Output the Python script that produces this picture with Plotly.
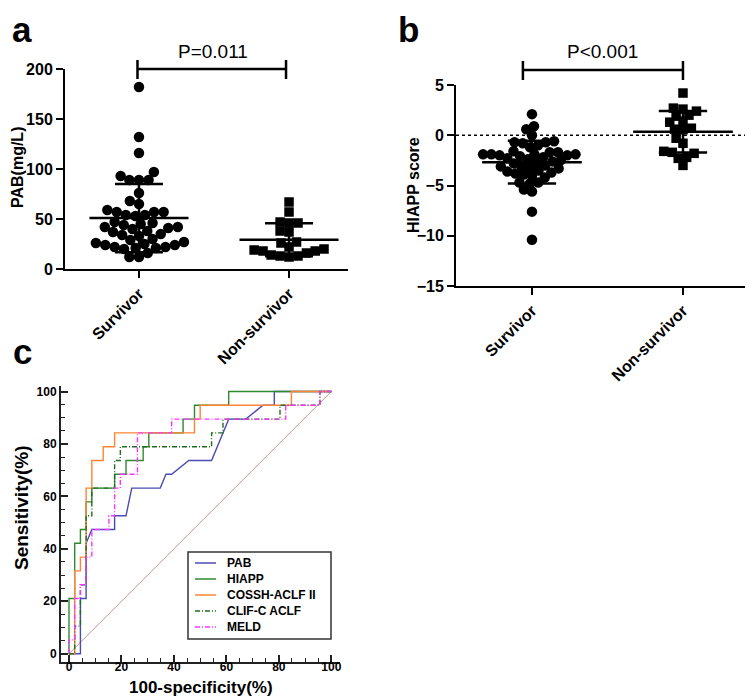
import numpy as np
import plotly.graph_objects as go

W, H = 753, 696
FONT = "Arial, Liberation Sans, sans-serif"

# ---------------- data ----------------
groups = ["Survivor", "Non-survivor"]

pab_survivor = [182, 132, 116, 97, 93, 89, 89, 89, 76, 68, 65, 59, 57, 57, 57, 54, 53, 54,
                47, 46, 45, 44, 42, 42, 41, 40, 38, 37, 35, 34, 33, 30, 29, 27, 26, 25, 24,
                24, 22, 22, 21, 21, 20, 16, 12, 12]
pab_nonsurvivor = [67, 57, 47, 46, 46, 38, 37, 27, 26, 22, 20, 19, 18, 18, 16, 14, 13, 13, 12]

hiapp_survivor = [2.1, 0.9, 0.6, 0.0, -0.6, -0.7, -0.7, -0.8, -1.0, -1.2, -1.6, -1.7, -1.7,
                  -1.9, -1.9, -1.9, -1.9, -2.0, -2.0, -2.1, -2.2, -2.3, -2.4, -2.5, -2.6,
                  -2.7, -2.8, -3.0, -3.1, -3.1, -3.2, -3.3, -3.5, -3.6, -3.7, -3.8, -3.9,
                  -4.0, -4.2, -4.7, -4.7, -4.8, -5.4, -5.6, -7.6, -10.4]
hiapp_nonsurvivor = [4.2, 2.6, 2.7, 2.0, 1.9, 2.4, 1.4, 1.3, 0.55, 0.6, 0.7, -0.3, -0.8,
                     -1.7, -2.2, -1.6, -2.3, -1.8, -3.0]

p_text_a = "P=0.011"
p_text_b = "P<0.001"

roc_names = ["PAB", "HIAPP", "COSSH-ACLF II", "CLIF-C ACLF", "MELD"]
roc_pab_fpr = [0, 4.35, 4.35, 6.52, 6.52, 8.70, 17.39, 17.39, 21.74, 23.91, 34.78, 36.96,
               39.13, 45.65, 54.35, 60.87, 67.39, 73.91, 78.26, 78.26, 100]
roc_pab_tpr = [0, 0, 21.05, 21.05, 42.11, 47.37, 47.37, 52.63, 52.63, 63.16, 63.16, 68.42,
               68.42, 73.68, 73.68, 89.47, 89.47, 94.74, 94.74, 100, 100]
roc_hiapp_fpr = [0, 0, 2.17, 2.17, 4.35, 4.35, 6.52, 6.52, 8.70, 8.70, 17.39, 17.39, 21.74,
                 21.74, 28.26, 28.26, 30.43, 30.43, 43.48, 43.48, 47.83, 47.83, 60.87, 60.87, 100]
roc_hiapp_tpr = [0, 21.05, 21.05, 42.11, 42.11, 47.37, 47.37, 57.89, 57.89, 63.16, 63.16,
                 68.42, 68.42, 73.68, 73.68, 78.95, 78.95, 84.21, 84.21, 89.47, 89.47, 94.74,
                 94.74, 100, 100]
roc_cossh_fpr = [0, 2.17, 2.17, 4.35, 4.35, 6.52, 6.52, 8.70, 8.70, 13.04, 13.04, 17.39,
                 17.39, 47.83, 47.83, 50.00, 50.00, 84.78, 84.78, 100]
roc_cossh_tpr = [0, 0, 31.58, 31.58, 36.84, 36.84, 63.16, 63.16, 73.68, 73.68, 78.95, 78.95,
                 84.21, 84.21, 89.47, 89.47, 94.74, 94.74, 100, 100]
roc_clif_fpr = [0, 2.17, 2.17, 4.35, 4.35, 6.52, 6.52, 8.70, 8.70, 17.39, 17.39, 19.57,
                19.57, 54.35, 54.35, 58.70, 58.70, 80.43, 80.43, 95.65, 95.65, 100]
roc_clif_tpr = [0, 0, 10.53, 10.53, 26.32, 26.32, 52.63, 52.63, 63.16, 63.16, 73.68, 73.68,
                78.95, 78.95, 84.21, 84.21, 89.47, 89.47, 94.74, 94.74, 100, 100]
roc_meld_fpr = [0, 0, 2.17, 2.17, 4.35, 4.35, 6.52, 6.52, 8.70, 8.70, 15.22, 15.22, 17.39,
                17.39, 19.57, 19.57, 26.09, 26.09, 39.13, 39.13, 82.61, 82.61, 95.65, 95.65, 100]
roc_meld_tpr = [0, 5.26, 5.26, 21.05, 21.05, 26.32, 26.32, 36.84, 36.84, 47.37, 47.37, 52.63,
                52.63, 63.16, 63.16, 68.42, 68.42, 84.21, 84.21, 89.47, 89.47, 94.74, 94.74,
                100, 100]
roc_ref = [0, 100]

# ---------------- helpers ----------------
def px(p):
    return p / W


def py(p):
    return 1 - p / H


def beeswarm(vals, px_per_unit, px_per_cat, d):
    vals = np.asarray(vals, dtype=float)
    order = np.argsort(vals)
    placed = []
    xs = np.zeros(len(vals))
    for i in order:
        y = vals[i] * px_per_unit
        cands = [0.0]
        for (qx, qy) in placed:
            dy = abs(qy - y)
            if dy < d:
                dx = np.sqrt(d * d - dy * dy)
                cands += [qx + dx, qx - dx]
        cands = sorted(cands, key=lambda c: (round(abs(c), 6), c))
        for c in cands:
            if all((c - qx) ** 2 + (y - qy) ** 2 >= d * d - 1e-6 for (qx, qy) in placed):
                xs[i] = c
                placed.append((c, y))
                break
    return xs / px_per_cat


def mean_sd_lines(vals, idx, half_mean=0.33, half_cap=0.16):
    m = float(np.mean(vals))
    s = float(np.std(vals, ddof=1))
    xs = [idx - half_mean, idx + half_mean, None,
          idx, idx, None,
          idx - half_cap, idx + half_cap, None,
          idx - half_cap, idx + half_cap]
    ys = [m, m, None, m - s, m + s, None, m + s, m + s, None, m - s, m - s]
    return xs, ys


fig = go.Figure()

# ---------------- panel a ----------------
PXA_UNIT, PXA_CAT = 1.0, 150.0
for gi, (vals, sym, size, d) in enumerate([(pab_survivor, "circle", 10.5, 9.6),
                                          (pab_nonsurvivor, "square", 9.5, 9.0)]):
    off = beeswarm(vals, PXA_UNIT, PXA_CAT, d)
    fig.add_trace(go.Scatter(x=gi + off, y=vals, mode="markers", xaxis="x", yaxis="y",
                             marker=dict(symbol=sym, size=size, color="black"),
                             showlegend=False, hoverinfo="skip"))
    lx, ly = mean_sd_lines(vals, gi)
    fig.add_trace(go.Scatter(x=lx, y=ly, mode="lines", xaxis="x", yaxis="y",
                             line=dict(color="black", width=2.5), showlegend=False,
                             hoverinfo="skip"))

# ---------------- panel b ----------------
PXB_UNIT, PXB_CAT = 10.05, 151.0
for gi, (vals, sym, size, d) in enumerate([(hiapp_survivor, "circle", 10.5, 8.3),
                                          (hiapp_nonsurvivor, "square", 9.5, 8.5)]):
    off = beeswarm(vals, PXB_UNIT, PXB_CAT, d)
    fig.add_trace(go.Scatter(x=gi + off, y=vals, mode="markers", xaxis="x2", yaxis="y2",
                             marker=dict(symbol=sym, size=size, color="black"),
                             showlegend=False, hoverinfo="skip"))
    lx, ly = mean_sd_lines(vals, gi)
    fig.add_trace(go.Scatter(x=lx, y=ly, mode="lines", xaxis="x2", yaxis="y2",
                             line=dict(color="black", width=2.5), showlegend=False,
                             hoverinfo="skip"))

# ---------------- panel c (ROC) ----------------
fig.add_trace(go.Scatter(x=roc_ref, y=roc_ref, mode="lines", xaxis="x3", yaxis="y3",
                         line=dict(color="#c59393", width=1), showlegend=False,
                         hoverinfo="skip"))
DASHDOT = "5px,2px,1px,2px"
roc_styles = [
    (roc_pab_fpr, roc_pab_tpr, "#4b4bb5", "solid"),
    (roc_hiapp_fpr, roc_hiapp_tpr, "#2f8a2f", "solid"),
    (roc_cossh_fpr, roc_cossh_tpr, "#ff8433", "solid"),
    (roc_clif_fpr, roc_clif_tpr, "#1f6e1f", DASHDOT),
    (roc_meld_fpr, roc_meld_tpr, "#ff33ff", DASHDOT),
]
for name, (fx, ty, col, dash) in zip(roc_names, roc_styles):
    fig.add_trace(go.Scatter(x=fx, y=ty, mode="lines", xaxis="x3", yaxis="y3", name=name,
                             line=dict(color=col, width=1.4, dash=dash), hoverinfo="skip",
                             showlegend=False))

# ---------------- axes ----------------
tick_bold16 = dict(family=FONT, size=16, color="black", weight="bold")
tick_cat = dict(family=FONT, size=16, color="black", weight="bold")
tick_bold12 = dict(family=FONT, size=12, color="black", weight="bold")
common_cat = dict(tickvals=[0, 1], ticktext=groups, tickangle=-45, ticks="outside",
                  ticklen=7, tickwidth=2, tickcolor="black", showline=True, linewidth=2,
                  linecolor="black", showgrid=False, zeroline=False, tickfont=tick_cat,
                  fixedrange=True)
common_val = dict(ticks="outside", ticklen=7, tickwidth=2, tickcolor="black", showline=True,
                  linewidth=2, linecolor="black", showgrid=False, zeroline=False,
                  tickfont=tick_bold16, fixedrange=True)
roc_axis = dict(tickvals=[0, 20, 40, 60, 80, 100], ticks="inside", ticklen=7, tickwidth=1.5,
                tickcolor="#222", minor=dict(dtick=5, tick0=0, ticks="inside", ticklen=4,
                                             tickwidth=1.2, tickcolor="#222"),
                showline=True, linewidth=2, linecolor="#222", showgrid=False, zeroline=False,
                tickfont=tick_bold12, fixedrange=True)

fig.update_layout(
    xaxis=dict(domain=[px(57), px(340)], range=[-0.493, 1.393], anchor="y", **common_cat),
    yaxis=dict(domain=[py(261), py(61)], range=[0, 200], tickvals=[0, 50, 100, 150, 200],
               anchor="x", **common_val),
    xaxis2=dict(domain=[px(448), px(752)], range=[-0.503, 1.51], anchor="y2", **common_cat),
    yaxis2=dict(domain=[py(278), py(77)], range=[-15, 5], tickvals=[-15, -10, -5, 0, 5],
                anchor="x2", **common_val),
    xaxis3=dict(domain=[px(53), px(332)], range=[-3.05, 103.3], anchor="y3",
                ticklabelstandoff=-7, **roc_axis),
    yaxis3=dict(domain=[py(654), py(378)], range=[-3.16, 102.1], anchor="x3", **roc_axis),
)

# ---------------- shapes ----------------
shapes = []


def bracket(xref, x0, x1, yc):
    shapes.append(dict(type="line", xref=xref, yref="paper", x0=x0, x1=x1, y0=py(yc), y1=py(yc),
                       line=dict(color="black", width=2.5)))
    for xx in (x0, x1):
        shapes.append(dict(type="line", xref=xref, yref="paper", x0=xx, x1=xx,
                           y0=py(yc - 9), y1=py(yc + 10), line=dict(color="black", width=2.5)))


bracket("x", -0.01, 0.98, 61)
bracket("x2", -0.06, 1.0, 62)
shapes.append(dict(type="line", xref="x2 domain", yref="y2", x0=0, x1=1, y0=0, y1=0,
                   line=dict(color="black", width=1.5, dash="dot")))

# manual legend for ROC panel
LEG_L, LEG_T, LEG_R, LEG_B = 180, 544, 323, 631
shapes.append(dict(type="rect", xref="paper", yref="paper", x0=px(LEG_L), x1=px(LEG_R),
                   y0=py(LEG_B), y1=py(LEG_T), line=dict(color="#333", width=1.5),
                   fillcolor="white", layer="above"))

# ---------------- annotations ----------------
ann = []


def text(x, y, s, size, bold=True, angle=0, xanchor="center", yanchor="middle", xref="paper"):
    ann.append(dict(x=x, y=y, xref=xref, yref="paper", text=s, showarrow=False,
                    textangle=angle, xanchor=xanchor, yanchor=yanchor,
                    font=dict(family=FONT, size=size, color="black",
                              weight="bold" if bold else "normal")))


for k, (name, (_, _, col, dash)) in enumerate(zip(roc_names, roc_styles)):
    yc = 555 + 16 * k
    shapes.append(dict(type="line", xref="paper", yref="paper", x0=px(187), x1=px(208),
                       y0=py(yc), y1=py(yc), line=dict(color=col, width=1.5, dash=dash),
                       layer="above"))
    text(px(217), py(yc), name, 12, xanchor="left")

text(px(400), 1.0, "b", 35, yanchor="top")
text(px(14), 1.0, "a", 35, yanchor="top")
text(px(14), py(343), "c", 35)
text(0.49, py(44), p_text_a, 19, bold=False, xref="x")
text(0.47, py(44), p_text_b, 19, bold=False, xref="x2")
text(px(10), py(160), "PAB(mg/L)", 16, angle=-90)
text(px(405), py(177), "HIAPP score", 16, angle=-90)
text(px(14), py(500), "Sensitivity(%)", 19, angle=-90)
text(px(193), py(679), "100-specificity(%)", 17)

fig.update_layout(
    width=W, height=H, margin=dict(l=0, r=0, t=0, b=0, autoexpand=False),
    paper_bgcolor="white", plot_bgcolor="white", shapes=shapes, annotations=ann,
    font=dict(family=FONT, color="black"), showlegend=False,
)

fig.write_html("out.html")
